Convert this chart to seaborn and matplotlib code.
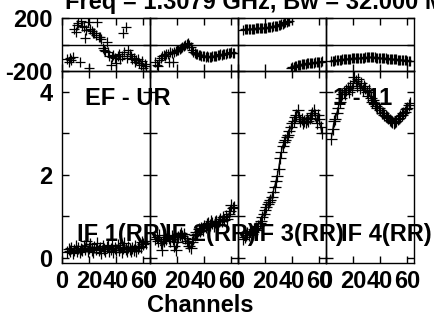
import matplotlib
matplotlib.use("Agg")
import matplotlib.pyplot as plt
import numpy as np
import pandas as pd
import seaborn as sns

# ---------------- data ----------------
channels = list(range(4, 63))
if_labels = ["IF 1(RR)", "IF 2(RR)", "IF 3(RR)", "IF 4(RR)"]
x_ticks = [0, 20, 40, 60]

amp_if1 = [0.15, 0.22, 0.18, 0.25, 0.12, 0.20, 0.28, 0.17, 0.23, 0.14,
           0.21, 0.19, 0.30, 0.22, 0.40, 0.18, 0.25, 0.33, 0.20, 0.15,
           0.27, 0.22, 0.35, 0.19, 0.24, 0.13, 0.29, 0.21, 0.18, 0.26,
           0.32, 0.17, 0.22, 0.28, 0.15, 0.24, 0.20, 0.31, 0.19, 0.26,
           0.14, 0.23, 0.36, 0.21, 0.18, 0.27, 0.22, 0.16, 0.25, 0.20,
           0.29, 0.17, 0.24, 0.30, 0.26, 0.38, 0.34, 0.40, 0.36]
amp_if2 = [0.45, 0.50, 0.40, 0.55, 0.35, 0.20, 0.42, 0.50, 0.45, 0.55,
           0.48, 0.40, 0.52, 0.45, 0.30, 0.20, 0.38, 0.50, 0.55, 0.60,
           0.52, 0.58, 0.48, 0.40, 0.35, 0.30, 0.25, 0.38, 0.45, 0.55,
           0.62, 0.58, 0.70, 0.65, 0.72, 0.68, 0.78, 0.75, 0.82, 0.85,
           0.80, 0.88, 0.84, 0.78, 0.86, 0.90, 0.82, 0.88, 0.95, 0.90,
           0.98, 0.92, 1.00, 0.95, 1.05, 1.12, 1.28, 1.20, 1.22]
amp_if3 = [0.45, 0.50, 0.55, 0.60, 0.55, 0.65, 0.58, 0.62, 0.70, 0.72,
           0.68, 0.78, 0.85, 0.90, 0.98, 1.05,
           1.16, 1.22, 1.30, 1.35, 1.40, 1.47, 1.60, 1.72, 1.85, 1.98,
           2.15, 2.40, 2.55, 2.70, 2.78, 2.85, 2.92, 2.96, 3.05, 3.15,
           3.25, 3.30, 3.40, 3.45, 3.55, 3.40, 3.30, 3.35, 3.25, 3.30,
           3.28, 3.35, 3.30, 3.38, 3.45, 3.50, 3.55, 3.45, 3.25, 3.45,
           3.35, 3.15, 3.00]
amp_if4 = [2.87, 3.10, 3.30, 3.35, 3.50, 3.60, 3.75, 3.85, 3.95, 4.00,
           3.95, 4.05, 4.10, 4.00, 4.15, 4.05, 4.20, 4.35, 4.25, 4.15,
           4.30, 4.10, 4.20, 4.05, 4.15, 4.10, 4.00, 3.90, 4.05, 3.85,
           3.75, 3.80, 3.70, 3.65, 3.60, 3.62, 3.55, 3.50, 3.48, 3.45,
           3.42, 3.40, 3.38, 3.32, 3.30, 3.28, 3.25, 3.28, 3.30, 3.35,
           3.38, 3.42, 3.45, 3.50, 3.52, 3.58, 3.62, 3.68, 3.72]

phs_if1 = [-110, -130, -100, -120, -95, 120, 94, 150, 165, -130,
           175, 140, 130, 49, 110, 170, -180, 120, 100, 87,
           90, 75, 170, 60, 57, 40, -30, -42, -50, 19,
           -60, -85, -155, -95, -80, -102, -140, -90, -75, -110,
           -85, 87, -60, 132, -100, -42, -72, -90, -110, -100,
           -130, -120, -110, -140, -155, -125, -180, -150, -160]
phs_if2 = [-130, -155, -165, -120, -100, -90, -80, -85, -70, -75,
           -130, -60, -65, -130, -55, -50, -45, -40, -35, -30,
           -20, -15, -5, 5, 10, 0, -20, -40, -55, -65,
           -70, -75, -80, -80, -85, -90, -88, -92, -90, -95,
           -92, -95, -90, -88, -85, -90, -80, -78, -75, -80,
           -70, -72, -68, -65, -62, -65, -60, -62, -65]
phs_if3 = [112, 114, 115, 116, 117, 118, 118, 119, 120, 121,
           122, 122, 123, 124, 125, 126, 127, 128, 130, 131,
           133, 135, 137, 139, 141, 143, 146, 150, 153, 157,
           162, 167, 172, 177, 180,
           -178, -172, -168, -163, -160, -157, -155, -152, -150, -148,
           -146, -145, -143, -142, -140, -139, -137, -136, -135, -134,
           -133, -131, -130, -128]
phs_if4 = [-128, -125, -122, -120, -118, -117, -115, -114, -112, -111,
           -110, -109, -108, -107, -106, -105, -104, -103, -102, -102,
           -101, -100, -100, -99, -99, -98, -98, -98, -97, -97,
           -97, -98, -98, -99, -100, -100, -101, -102, -103, -104,
           -105, -106, -107, -108, -109, -110, -111, -112, -113, -114,
           -115, -116, -117, -118, -119, -120, -121, -122, -124]

amps = [amp_if1, amp_if2, amp_if3, amp_if4]
phases = [phs_if1, phs_if2, phs_if3, phs_if4]

frames = []
for lab, a, p in zip(if_labels, amps, phases):
    n = min(len(channels), len(a), len(p))
    frames.append(pd.DataFrame({"channel": channels[:n], "amp": a[:n],
                                "phase": p[:n], "IF": lab}))
df = pd.concat(frames, ignore_index=True)

# ---------------- style ----------------
sns.set_theme(style="white")
plt.rcParams["font.family"] = ["Liberation Sans", "DejaVu Sans"]
plt.rcParams["font.weight"] = "bold"
plt.rcParams["axes.linewidth"] = 1.0
plt.rcParams["text.color"] = "black"
plt.rcParams["axes.labelcolor"] = "black"
plt.rcParams["xtick.color"] = "black"
plt.rcParams["ytick.color"] = "black"
FS = 17

fig = plt.figure(figsize=(4.35, 3.2), dpi=100)
fig.patch.set_facecolor("white")
gs = fig.add_gridspec(2, 4, left=62 / 435, right=414 / 435,
                      top=1 - 18 / 320, bottom=1 - 263 / 320,
                      wspace=0, hspace=0, height_ratios=[53, 192])

amp_axes = []
for i, lab in enumerate(if_labels):
    sub = df[df["IF"] == lab]
    axp = fig.add_subplot(gs[0, i])
    axa = fig.add_subplot(gs[1, i])
    amp_axes.append(axa)

    sns.scatterplot(data=sub, x="channel", y="phase", ax=axp, marker="+",
                    s=55, color="black", linewidth=0.9, legend=False)
    axp.axhline(0, color="black", lw=1.0)
    sns.lineplot(data=sub, x="channel", y="amp", ax=axa, color="black",
                 lw=0.8, marker="+", markersize=8, markeredgecolor="black",
                 markeredgewidth=0.9, legend=False)

    for ax in (axp, axa):
        ax.set_facecolor("none")
        ax.set_xlim(0, 65)
        ax.set_xticks(x_ticks)
        ax.set_xlabel("")
        ax.set_ylabel("")
        ax.tick_params(direction="in", length=5, width=1, top=True,
                       right=True, bottom=True, left=True,
                       labelsize=FS, colors="black")
        for s in ax.spines.values():
            s.set_color("black")
            s.set_linewidth(1.0)

    axp.set_ylim(-200, 200)
    axp.set_yticks([-200, 0, 200])
    axp.tick_params(labelbottom=False)
    axa.set_ylim(-0.12, 4.5)
    axa.set_yticks([0, 1, 2, 3, 4])
    axa.tick_params(axis="x", pad=5)
    axa.set_xticklabels([str(t) for t in x_ticks], fontweight="bold",
                        color="black")
    if i == 0:
        axp.set_yticklabels(["-200", "", "200"], fontweight="bold",
                            color="black")
        axa.set_yticklabels(["0", "", "2", "", "4"], fontweight="bold",
                            color="black")
        axp.tick_params(axis="y", pad=7)
        axa.tick_params(axis="y", pad=7)
    else:
        axp.set_yticklabels([])
        axa.set_yticklabels([])

# panel annotations drawn on top of every panel
for i, (lab, axa) in enumerate(zip(if_labels, amp_axes)):
    fig.text(15 / 88, 0.115, lab, transform=axa.transAxes, fontsize=FS,
             fontweight="bold", ha="left", va="baseline", color="black",
             zorder=10)
fig.text(0.26, 0.823, "EF - UR", transform=amp_axes[0].transAxes,
         fontsize=FS, fontweight="bold", ha="left", va="baseline",
         color="black", zorder=10)
fig.text(0.08, 0.823, "1 - 11", transform=amp_axes[3].transAxes,
         fontsize=FS, fontweight="bold", ha="left", va="baseline",
         color="black", zorder=10)

fig.text(65 / 435, 1 - 9 / 320, "Freq = 1.3079 GHz, Bw = 32.000 MHz",
         fontsize=FS, fontweight="bold", ha="left", va="baseline",
         color="black")
fig.text(200 / 435, 1 - 312 / 320, "Channels", fontsize=FS,
         fontweight="bold", ha="center", va="baseline", color="black")

fig.savefig("out.png", dpi=100)
